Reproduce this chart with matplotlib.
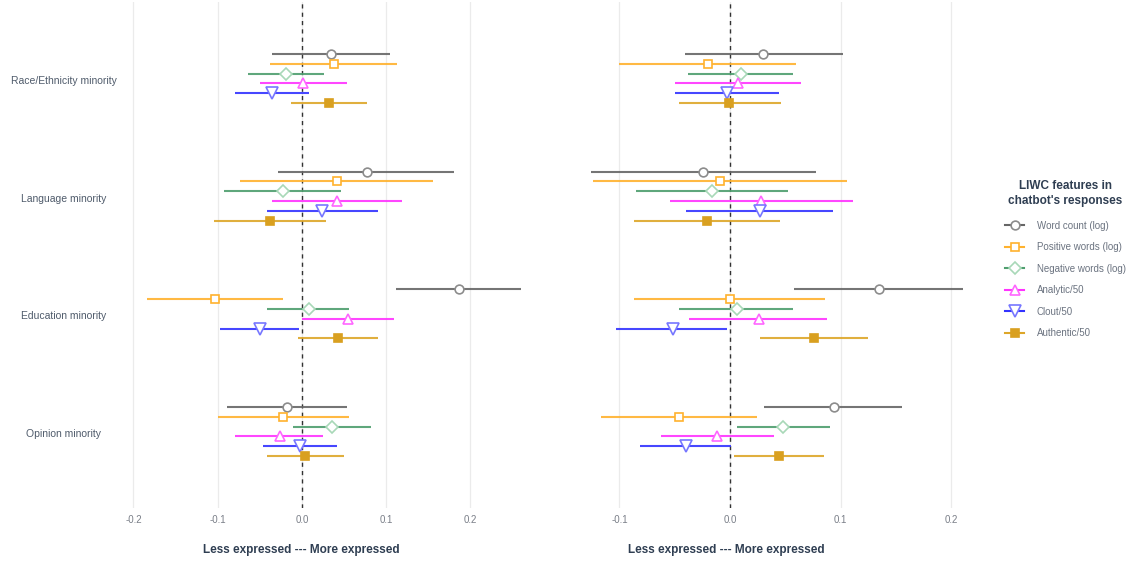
import numpy as np
import matplotlib
matplotlib.use("Agg")
import matplotlib.pyplot as plt
import matplotlib.transforms as mtransforms
from matplotlib.lines import Line2D

plt.rcParams['font.family'] = ['Liberation Sans', 'DejaVu Sans']

groups = ["Race/Ethnicity minority", "Language minority", "Education minority", "Opinion minority"]
features = ["Word count (log)", "Positive words (log)", "Negative words (log)",
            "Analytic/50", "Clout/50", "Authentic/50"]

# rows = features, columns = groups
left_est = [[0.035, 0.077, 0.186, -0.018],
            [0.038, 0.042, -0.103, -0.022],
            [-0.019, -0.023, 0.008, 0.036],
            [0.001, 0.042, 0.055, -0.026],
            [-0.036, 0.024, -0.050, -0.002],
            [0.032, -0.038, 0.043, 0.004]]
left_lo = [[-0.035, -0.029, 0.112, -0.089],
           [-0.038, -0.073, -0.184, -0.100],
           [-0.064, -0.092, -0.041, -0.011],
           [-0.050, -0.036, 0.000, -0.079],
           [-0.079, -0.041, -0.097, -0.046],
           [-0.013, -0.105, -0.005, -0.042]]
left_hi = [[0.105, 0.180, 0.260, 0.053],
           [0.113, 0.156, -0.022, 0.056],
           [0.026, 0.046, 0.056, 0.082],
           [0.053, 0.119, 0.109, 0.025],
           [0.008, 0.090, -0.004, 0.042],
           [0.077, 0.029, 0.090, 0.050]]

right_est = [[0.030, -0.024, 0.135, 0.094],
             [-0.020, -0.009, 0.000, -0.046],
             [0.010, -0.016, 0.006, 0.048],
             [0.007, 0.028, 0.026, -0.012],
             [-0.003, 0.027, -0.052, -0.040],
             [-0.001, -0.021, 0.076, 0.044]]
right_lo = [[-0.041, -0.126, 0.058, 0.031],
            [-0.100, -0.124, -0.087, -0.117],
            [-0.038, -0.085, -0.046, 0.006],
            [-0.050, -0.054, -0.037, -0.062],
            [-0.050, -0.040, -0.103, -0.081],
            [-0.046, -0.087, 0.027, 0.004]]
right_hi = [[0.102, 0.078, 0.211, 0.156],
            [0.060, 0.106, 0.086, 0.024],
            [0.057, 0.052, 0.057, 0.090],
            [0.064, 0.111, 0.088, 0.040],
            [0.044, 0.093, -0.003, 0.001],
            [0.046, 0.045, 0.125, 0.085]]

line_colors = ["#666666", "#FFB22E", "#4E9E6E", "#FF33FF", "#3333FF", "#DDA629"]
edge_colors = ["#8c8c8c", "#FFB22E", "#A8D8B8", "#FF66FF", "#7777FF", "#D9A020"]
face_colors = ["white", "white", "white", "white", "white", "#D9A020"]
markers = ["o", "s", "D", "^", "v", "s"]
msizes = [6.3, 5.8, 6.0, 7.5, 8.5, 6.0]

text_col = "#4f5b6b"
title_col = "#2f3e52"

fig = plt.figure(figsize=(11.35, 5.65), dpi=100)
ax_l = fig.add_axes([128 / 1135, 57 / 565, 412 / 1135, 506 / 565])
ax_r = fig.add_axes([572 / 1135, 57 / 565, 410 / 1135, 506 / 565])

ypos = np.array([4, 3, 2, 1])
offsets = 0.2083 - 0.0833 * np.arange(6)


def draw_panel(ax, est, lo, hi, xlim, ticks):
    ax.axvline(0, color="#333333", lw=1.0, ls=(0, (3, 3)), zorder=1)
    for i in range(len(features)):
        y = ypos + offsets[i]
        e = np.array(est[i])
        l = np.array(lo[i])
        h = np.array(hi[i])
        ax.hlines(y, l, h, color=line_colors[i], lw=1.5, alpha=0.9, zorder=2)
        ax.plot(e, y, ls="none", marker=markers[i], ms=msizes[i],
                mfc=face_colors[i], mec=edge_colors[i], mew=1.2, zorder=3)
    ax.set_xlim(*xlim)
    ax.set_ylim(0.35, 4.65)
    ax.set_xticks(ticks)
    ax.set_xticklabels([f"{t:.1f}" for t in ticks])
    ax.set_yticks([])
    ax.grid(axis="x", color="#ebebeb", lw=0.9)
    ax.set_axisbelow(True)
    for s in ax.spines.values():
        s.set_visible(False)
    ax.tick_params(axis="x", length=0, pad=5, labelsize=7, labelcolor="#7a7f88")


draw_panel(ax_l, left_est, left_lo, left_hi, (-0.2065, 0.2825), [-0.2, -0.1, 0.0, 0.1, 0.2])
draw_panel(ax_r, right_est, right_lo, right_hi, (-0.1429, 0.2279), [-0.1, 0.0, 0.1, 0.2])

# group labels, centred in the left margin
trans = mtransforms.blended_transform_factory(fig.transFigure, ax_l.transData)
trans = trans + mtransforms.ScaledTranslation(0, -2.5 / 100, fig.dpi_scale_trans)
for g, y in zip(groups, ypos):
    ax_l.text(64 / 1135, y, g, transform=trans, ha="center", va="center",
              fontsize=7.5, color=text_col)

fig.text(301 / 1135, 15 / 565, "Less expressed --- More expressed", ha="center", va="center",
         fontsize=8.5, fontweight="bold", color=title_col)
fig.text(726 / 1135, 15 / 565, "Less expressed --- More expressed", ha="center", va="center",
         fontsize=8.5, fontweight="bold", color=title_col)

handles = [Line2D([0], [0], color=line_colors[i], lw=1.5, marker=markers[i], ms=msizes[i],
                  mfc=face_colors[i], mec=edge_colors[i], mew=1.2) for i in range(len(features))]
leg = fig.legend(handles, features, loc="upper left", bbox_to_anchor=(1000 / 1135, 390 / 565),
                 frameon=False, fontsize=7, labelcolor="#6b7380", handlelength=2.0,
                 handletextpad=1.3, labelspacing=1.18, borderpad=0,
                 title="LIWC features in\nchatbot's responses",
                 title_fontproperties={"weight": "bold", "size": 8.5})
leg.get_title().set_color(title_col)
leg.get_title().set_multialignment("center")
leg.get_title().set_linespacing(1.35)
leg._legend_box.sep = 10

fig.savefig("out.png", dpi=100)
